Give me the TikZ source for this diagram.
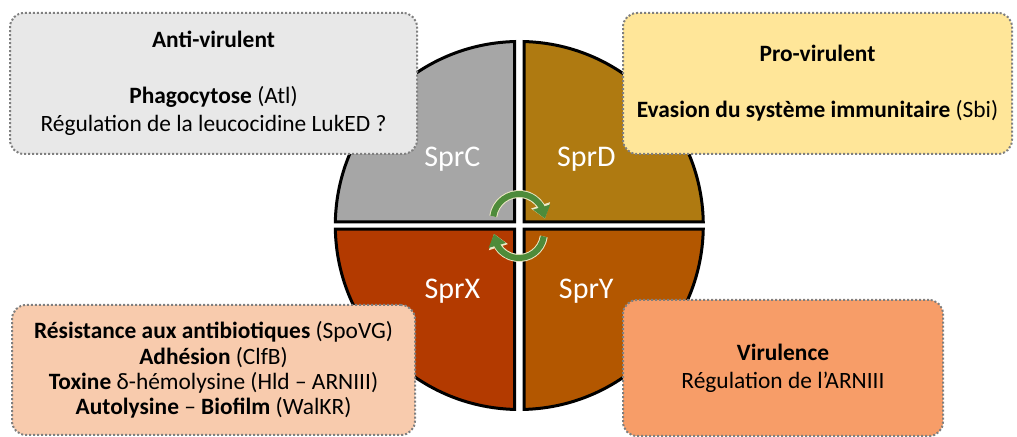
\documentclass[tikz,border=0pt]{standalone}
\usepackage{fontspec}
\setmainfont{Carlito}
\usetikzlibrary{arrows.meta,bending,positioning,calc}
\definecolor{sprC}{HTML}{A6A6A6}
\definecolor{sprD}{HTML}{AF7A11}
\definecolor{sprX}{HTML}{B33A00}
\definecolor{sprY}{HTML}{B35700}
\definecolor{antiFill}{HTML}{E8E8E8}
\definecolor{proFill}{HTML}{FFE699}
\definecolor{resistFill}{HTML}{F8CBAD}
\definecolor{viruFill}{HTML}{F79D68}
\definecolor{frame}{HTML}{7F7F7F}
\definecolor{turnGreen}{HTML}{4E8B3A}
\definecolor{turnEdge}{HTML}{EDE9C6}
\tikzset{
  rolebox/.style={draw=frame, densely dotted, line width=1pt, rounded corners=7pt,
    align=center, inner sep=0pt, font=\fontsize{11.7}{14}\selectfont},
  antibox/.style={rolebox, fill=antiFill, minimum width=203.5pt, minimum height=70.5pt},
  probox/.style={rolebox, fill=proFill, minimum width=194.5pt, minimum height=70.5pt},
  resistbox/.style={rolebox, fill=resistFill, minimum width=201.5pt, minimum height=65pt,
    font=\fontsize{11.7}{12.7}\selectfont},
  virubox/.style={rolebox, fill=viruFill, minimum width=160pt, minimum height=68pt},
  quarter/.style={draw=black, line width=1.5pt},
  sprlabel/.style={text=white, font=\fontsize{15}{18}\selectfont},
  turnedge/.style={-{Triangle[length=7pt, width=9.5pt]}, line width=4pt, draw=turnEdge},
  turn/.style={-{Triangle[length=6pt, width=8.5pt]}, line width=3pt, draw=turnGreen}
}
\begin{document}
\begin{tikzpicture}[x=0.5pt, y=0.5pt]
  \useasboundingbox (0,0) rectangle (1017,437);
  \coordinate (ctr) at (519.3,211.5);
  \coordinate (hubTop) at (519,217);
  \coordinate (hubBottom) at (519,204);
  % the four quarters of the disc
  \foreach \sx/\sy/\col in {-1/1/sprC, 1/1/sprD, -1/-1/sprX, 1/-1/sprY}
    \draw[quarter, fill=\col] ($(ctr)+(\sx*4.8,\sy*3.6)$) -- ($(ctr)+(\sx*183.96,\sy*3.6)$)
      arc[start angle={atan2(\sy*3.6,\sx*183.96)}, end angle={atan2(\sy*183.94,\sx*4.8)}, radius=184]
      -- cycle;
  \node[sprlabel] (sprCname) at ($(ctr)+(-67,66)$) {SprC};
  \node[sprlabel] (sprDname) at ($(ctr)+(67,66)$) {SprD};
  \node[sprlabel] (sprXname) at ($(ctr)+(-67,-66)$) {SprX};
  \node[sprlabel] (sprYname) at ($(ctr)+(67,-66)$) {SprY};
  % turning arrows
  \coordinate (turnTop) at ($(hubTop)+(172:26)$);
  \coordinate (turnBottom) at ($(hubBottom)+(-8:25)$);
  \foreach \look in {turnedge, turn} {
    \draw[\look] (turnTop) arc[start angle=172, end angle=3, radius=26];
    \draw[\look] (turnBottom) arc[start angle=-8, end angle=-178, radius=25];
  }
  % role boxes
  \node[antibox] (anti) at (213.5,353.5)
    {\textbf{Anti-virulent}\\[14pt]\textbf{Phagocytose} (Atl)\\Régulation de la leucocidine LukED ?};
  \node[probox] (pro) at (817.5,353.5)
    {\textbf{Pro-virulent}\\[14pt]\textbf{Evasion du système immunitaire} (Sbi)};
  \node[resistbox] (resist) at (213.5,67)
    {\textbf{Résistance aux antibiotiques} (SpoVG)\\\textbf{Adhésion} (ClfB)\\
     \textbf{Toxine} δ-hémolysine (Hld – ARNIII)\\\textbf{Autolysine} – \textbf{Biofilm} (WalKR)};
  \node[virubox] (viru) at (783,69)
    {\textbf{Virulence}\\Régulation de l’ARNIII};
\end{tikzpicture}
\end{document}
